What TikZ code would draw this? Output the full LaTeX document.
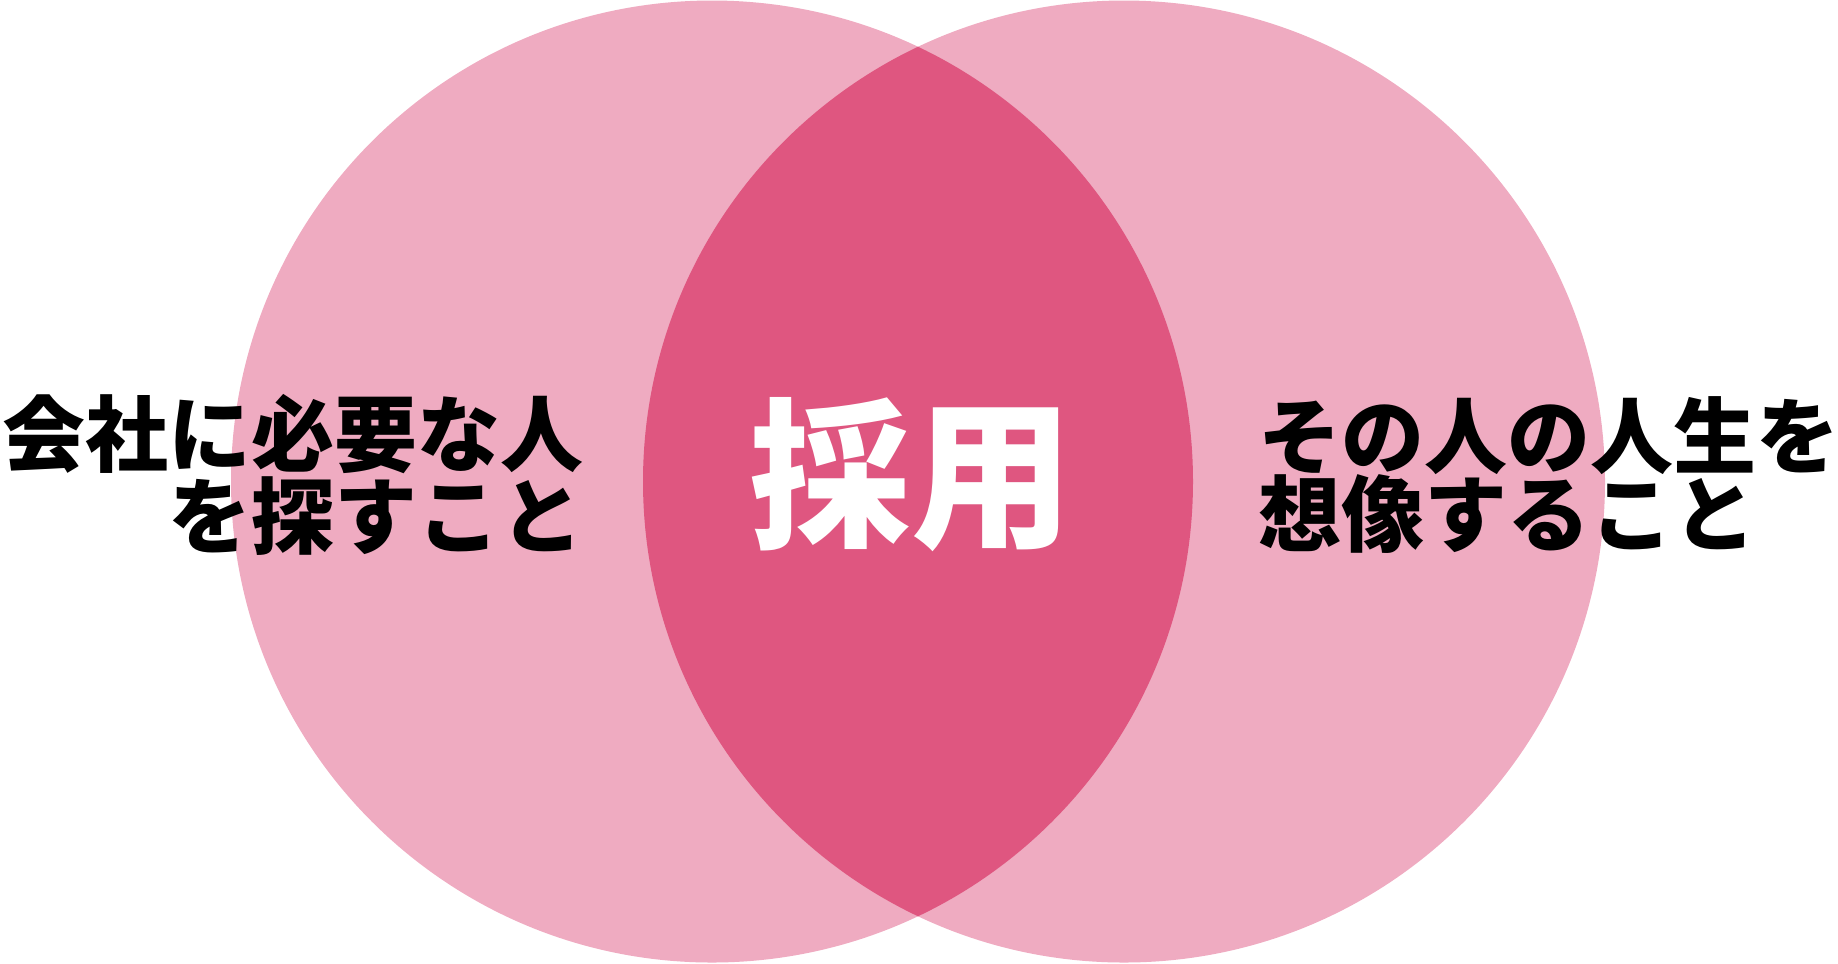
\documentclass[tikz,border=0pt]{standalone}
\usepackage{fontspec}
\newfontfamily\cjk{Noto Sans CJK JP}
\usepackage{tikz}
\usetikzlibrary{positioning}
\definecolor{ringcolor}{HTML}{EFABC1}
\definecolor{lenscolor}{HTML}{DF5680}

\begin{document}
\begin{tikzpicture}[
    label/.style={inner sep=0pt, font=\cjk\bfseries\fontsize{23.6}{22.3}\selectfont},
]
\useasboundingbox (0,0) rectangle (18.38,-9.63);

% Two circles
\fill[ringcolor] (7.12,-4.815) circle (4.81);
\fill[ringcolor] (11.24,-4.815) circle (4.81);

% Overlap
\begin{scope}
  \clip (7.12,-4.815) circle (4.81);
  \fill[lenscolor] (11.24,-4.815) circle (4.81);
\end{scope}

% Labels
\node[label, align=right, anchor=east] (company) at (5.84,-4.75) {会社に必要な人\\を探すこと};
\node[label, align=left, anchor=west] (person) at (12.58,-4.75) {その人の人生を\\想像すること};
\node[inner sep=0pt, text=white, font=\cjk\bfseries\fontsize{46}{46}\selectfont] (hiring) at (9.11,-4.75) {採用};

\end{tikzpicture}
\end{document}
